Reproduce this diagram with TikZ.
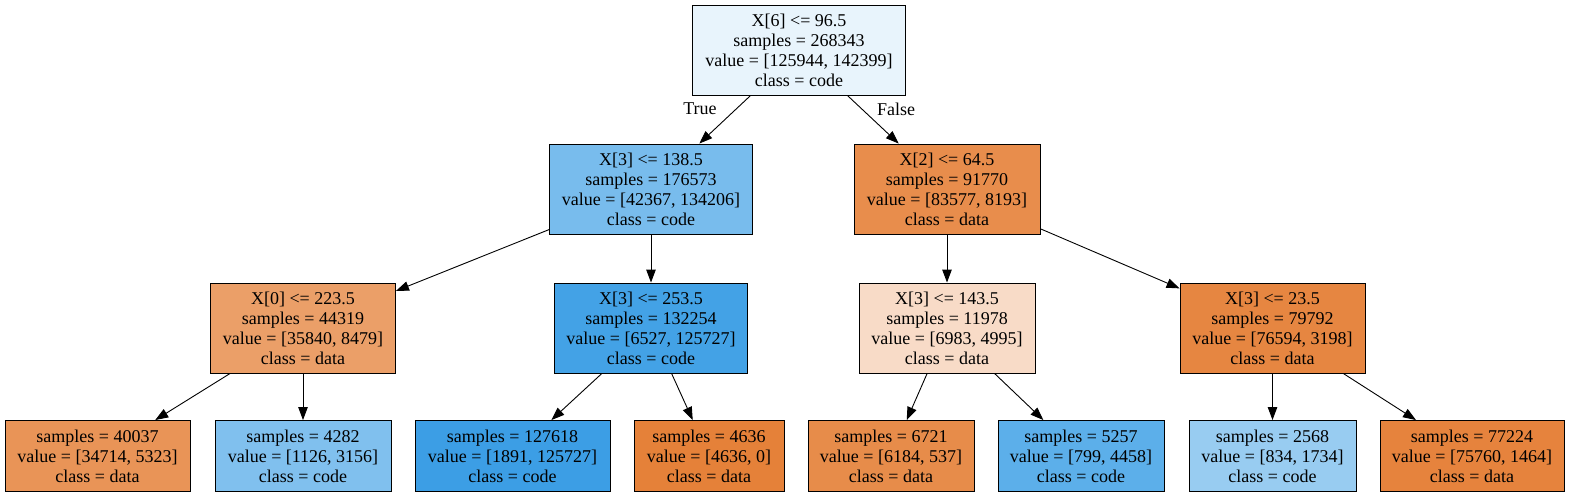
\documentclass[tikz,border=0pt]{standalone}
\usepackage{fontspec}
\setmainfont{Liberation Serif}
\usetikzlibrary{arrows.meta}
\definecolor{c0}{HTML}{E8F4FC}
\definecolor{c1}{HTML}{78BCED}
\definecolor{c2}{HTML}{E88D4C}
\definecolor{c3}{HTML}{EB9F68}
\definecolor{c4}{HTML}{43A2E6}
\definecolor{c5}{HTML}{F8DBC7}
\definecolor{c6}{HTML}{E68641}
\definecolor{c7}{HTML}{E99457}
\definecolor{c8}{HTML}{80C0EE}
\definecolor{c9}{HTML}{3C9EE5}
\definecolor{c10}{HTML}{E58139}
\definecolor{c11}{HTML}{E78C4A}
\definecolor{c12}{HTML}{5CAFEA}
\definecolor{c13}{HTML}{98CCF1}
\definecolor{c14}{HTML}{E6833D}
\begin{document}
\begin{tikzpicture}[x=1pt,y=-1pt,
  tree/.style={draw=black, line width=0.9pt, align=center, font=\fontsize{18}{20}\selectfont, inner sep=0pt, minimum height=90pt},
  leaf/.style={tree, minimum height=71pt},
  edge/.style={-{Triangle[length=13pt,width=9.5pt]}, line width=0.9pt},
  lbl/.style={font=\fontsize{18}{20}\selectfont, inner sep=0pt}]
\fill[white] (0,0) rectangle (1571,497);
\useasboundingbox (0,0) rectangle (1571,497);

\node[tree, fill=c0, minimum width=213pt] (root) at (799,50) {X[6] <= 96.5\\samples = 268343\\value = [125944, 142399]\\class = code};
\node[tree, fill=c1, minimum width=203pt] (L) at (651,189) {X[3] <= 138.5\\samples = 176573\\value = [42367, 134206]\\class = code};
\node[tree, fill=c2, minimum width=186pt] (R) at (947,189) {X[2] <= 64.5\\samples = 91770\\value = [83577, 8193]\\class = data};
\node[tree, fill=c3, minimum width=185pt] (A) at (303,328) {X[0] <= 223.5\\samples = 44319\\value = [35840, 8479]\\class = data};
\node[tree, fill=c4, minimum width=193pt] (B) at (651,328) {X[3] <= 253.5\\samples = 132254\\value = [6527, 125727]\\class = code};
\node[tree, fill=c5, minimum width=176pt] (C) at (947,328) {X[3] <= 143.5\\samples = 11978\\value = [6983, 4995]\\class = data};
\node[tree, fill=c6, minimum width=185pt] (D) at (1272.5,328) {X[3] <= 23.5\\samples = 79792\\value = [76594, 3198]\\class = data};

\node[leaf, fill=c7, minimum width=185pt] (l1) at (97.5,456) {samples = 40037\\value = [34714, 5323]\\class = data};
\node[leaf, fill=c8, minimum width=176pt] (l2) at (303,456) {samples = 4282\\value = [1126, 3156]\\class = code};
\node[leaf, fill=c9, minimum width=195pt] (l3) at (512.5,456) {samples = 127618\\value = [1891, 125727]\\class = code};
\node[leaf, fill=c10, minimum width=150pt] (l4) at (709,456) {samples = 4636\\value = [4636, 0]\\class = data};
\node[leaf, fill=c11, minimum width=166pt] (l5) at (891,456) {samples = 6721\\value = [6184, 537]\\class = data};
\node[leaf, fill=c12, minimum width=166pt] (l6) at (1081,456) {samples = 5257\\value = [799, 4458]\\class = code};
\node[leaf, fill=c13, minimum width=167pt] (l7) at (1272.5,456) {samples = 2568\\value = [834, 1734]\\class = code};
\node[leaf, fill=c14, minimum width=184pt] (l8) at (1472,456) {samples = 77224\\value = [75760, 1464]\\class = data};

\draw[edge] (root) -- (L);
\draw[edge] (root) -- (R);
\draw[edge] (L) -- (A);
\draw[edge] (L) -- (B);
\draw[edge] (R) -- (C);
\draw[edge] (R) -- (D);
\draw[edge] (A) -- (l1);
\draw[edge] (A) -- (l2);
\draw[edge] (B) -- (l3);
\draw[edge] (B) -- (l4);
\draw[edge] (C) -- (l5);
\draw[edge] (C) -- (l6);
\draw[edge] (D) -- (l7);
\draw[edge] (D) -- (l8);

\node[lbl] (t) at (700,109) {True};
\node[lbl] (f) at (896,109) {False};
\end{tikzpicture}
\end{document}
